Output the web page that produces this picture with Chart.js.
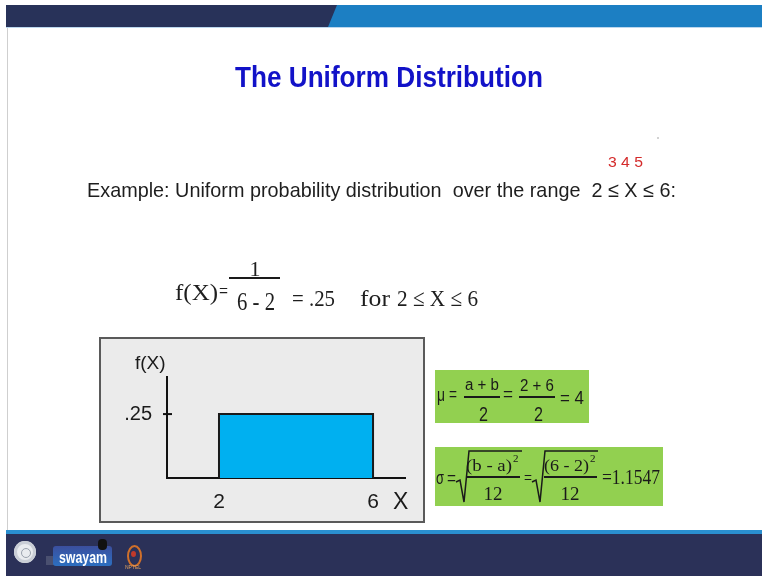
<!DOCTYPE html>
<html>
<head>
<meta charset="utf-8">
<title>The Uniform Distribution</title>
<script src="https://cdn.jsdelivr.net/npm/chart.js@4/dist/chart.umd.min.js"></script>
<style>
  html, body { margin: 0; padding: 0; background: #ffffff; }
  #slide { position: relative; width: 762px; height: 576px; overflow: hidden; background: #ffffff; }
  .abs { position: absolute; }
  .t { position: absolute; white-space: pre; line-height: 1; }
  .sans { font-family: 'Liberation Sans Narrow', 'Liberation Sans', Arial, sans-serif; }
  .serif { font-family: 'Liberation Serif', 'Times New Roman', serif; }
  #chartBox { left: 99px; top: 337px; width: 322px; height: 182px; background: #ebebeb; border: 2px solid #5a5a5a; }
  #chartCanvas { position: absolute; left: 99px; top: 337px; }
  .green { background: #92d050; }
  .bar { background: #1a1a1a; height: 1.5px; }
</style>
</head>
<body>
<div id="slide">
  <!-- header band -->
  <div class="abs" style="left:6px;top:5px;width:756px;height:22px;background:#283259;"></div>
  <div class="abs" style="left:0;top:5px;width:762px;height:22px;background:#1c7fc3;clip-path:polygon(337px 0,762px 0,762px 22px,328px 22px);"></div>
  <div class="abs" style="left:6px;top:27px;width:756px;height:1px;background:#bcd7ee;"></div>
  <!-- left edge rule -->
  <div class="abs" style="left:7px;top:28px;width:1px;height:502px;background:#cfcfcf;"></div>

  <!-- footer band -->
  <div class="abs" style="left:6px;top:530px;width:756px;height:4px;background:#2a8fd0;"></div>
  <div class="abs" style="left:6px;top:534px;width:756px;height:42px;background:#2b3158;"></div>
  <div class="abs" style="left:14px;top:541px;width:22px;height:22px;border-radius:50%;background:#e9ecef;box-shadow:inset 0 0 0 3px #c9ced6;"></div>
  <div class="abs" style="left:21px;top:548px;width:8px;height:8px;border-radius:50%;border:1px solid #9aa2ad;"></div>
  <div class="abs" style="left:46px;top:556px;width:8px;height:9px;background:#4a5070;"></div>
  <div class="abs" style="left:53px;top:546px;width:59px;height:20px;border-radius:3px;background:linear-gradient(#3b4f9e,#2c6fc0);"></div>
  <div class="abs" style="left:98px;top:539px;width:9px;height:11px;border-radius:4px;background:#111;"></div>
  <div class="abs" style="left:127px;top:545px;width:11px;height:18px;border-radius:50%;border:2px solid #d0702a;"></div>
  <div class="abs" style="left:131px;top:551px;width:5px;height:6px;border-radius:50%;background:#c0392b;"></div>

  <!-- chart frame -->
  <div id="chartBox" class="abs"></div>
  <canvas id="chartCanvas" width="326" height="186"></canvas>

  <!-- formula boxes -->
  <div class="abs green" style="left:435px;top:370px;width:154px;height:53px;"></div>
  <div class="abs green" style="left:435px;top:447px;width:228px;height:59px;"></div>
  <div class="abs bar" style="left:229px;top:277px;width:51px;"></div>
  <div class="abs bar" style="left:464px;top:396px;width:36px;"></div>
  <div class="abs bar" style="left:519px;top:396px;width:36px;"></div>
  <div class="abs bar" style="left:466px;top:476px;width:54px;"></div>
  <div class="abs bar" style="left:544px;top:476px;width:53px;"></div>
  <svg class="abs" style="left:0;top:0;" width="762" height="576">
    <polyline points="456,482 460,480 464,502 469,451 522,451" fill="none" stroke="#1a1a1a" stroke-width="1.5"/>
    <polyline points="532,482 536,480 540,502 545,451 598,451" fill="none" stroke="#1a1a1a" stroke-width="1.5"/>
    <circle cx="658" cy="138" r="0.8" fill="#999"/>
  </svg>
</div>

<script>
// Uniform density over [a, b]
const supportRange = [2, 6];          // a, b
const densityLevel = [0.25];          // f(X) = 1 / (b - a)
const xTickValues = [2, 6];
const xTickLabels = ['2', '6'];
const yTickValues = [0.25];
const yTickLabels = ['.25'];
const xAxisBounds = [0.65, 6.83];
const yAxisBounds = [0, 0.395];

const slide = document.getElementById('slide');

// Place a text run with its baseline at `base`; optionally squeeze to a width.
function put(txt, x, base, cls, css, opts) {
  opts = opts || {};
  const el = document.createElement('div');
  el.className = 't ' + cls;
  el.style.cssText += 'left:0px;top:0px;' + (css || '');
  el.textContent = txt;
  const probe = document.createElement('span');
  probe.style.cssText = 'display:inline-block;width:0;height:0;vertical-align:baseline;';
  el.appendChild(probe);
  slide.appendChild(el);
  const b = probe.offsetTop;
  let w = el.getBoundingClientRect().width;
  let sx = 1;
  if (opts.w) { sx = opts.w / w; w = opts.w; }
  let left = x;
  if (opts.anchor === 'center') left = x - w / 2;
  if (opts.anchor === 'end') left = x - w;
  el.style.left = left + 'px';
  el.style.top = (base - b) + 'px';
  if (sx !== 1) { el.style.transformOrigin = '0 0'; el.style.transform = 'scaleX(' + sx + ')'; }
  return el;
}

// Headline and statement
put('The Uniform Distribution', 235, 87, 'sans', 'font-size:29px;font-weight:bold;color:#1212c8;', { w: 308 });
put('Example: Uniform probability distribution  over the range  2 \u2264 X \u2264 6:', 87, 197, 'sans', 'font-size:21px;color:#1e1e1e;', { w: 589 });
put('3 4 5', 608, 167, 'sans', 'font-size:14px;color:#d42a2a;', { w: 35 });

// f(X) = 1/(6-2) = .25 for 2 <= X <= 6
put('f(X)', 175, 300, 'serif', 'font-size:24px;color:#1e1e1e;', { w: 43 });
put('=', 219, 298, 'serif', 'font-size:20px;color:#1e1e1e;', { w: 9 });
put('1', 255, 276, 'serif', 'font-size:22px;color:#1e1e1e;', { anchor: 'center' });
put('6 - 2', 256, 310, 'serif', 'font-size:25px;color:#1e1e1e;', { anchor: 'center', w: 38 });
put('= .25', 292, 306, 'serif', 'font-size:23px;color:#1e1e1e;', { w: 43 });
put('for', 360, 306, 'serif', 'font-size:23px;color:#1e1e1e;', { w: 30 });
put('2 \u2264 X \u2264 6', 397, 306, 'serif', 'font-size:24px;color:#1e1e1e;', { w: 81 });

// mean box
put('\u03bc', 437, 401, 'sans', 'font-size:19px;color:#1a1a1a;', { w: 8 });
put('=', 449, 400, 'sans', 'font-size:18px;color:#1a1a1a;', { w: 8 });
put('a + b', 482, 390, 'sans', 'font-size:16px;color:#1a1a1a;', { anchor: 'center', w: 34 });
put('2', 483, 421, 'sans', 'font-size:21px;color:#1a1a1a;', { anchor: 'center', w: 9 });
put('=', 503, 400, 'sans', 'font-size:18px;color:#1a1a1a;', { w: 10 });
put('2 + 6', 537, 391, 'sans', 'font-size:17px;color:#1a1a1a;', { anchor: 'center', w: 34 });
put('2', 538, 421, 'sans', 'font-size:21px;color:#1a1a1a;', { anchor: 'center', w: 9 });
put('= 4', 560, 404, 'sans', 'font-size:18px;color:#1a1a1a;', { w: 24 });

// standard deviation box
put('\u03c3', 436, 484, 'sans', 'font-size:19px;color:#1a1a1a;', { w: 8 });
put('=', 447, 484, 'sans', 'font-size:18px;color:#1a1a1a;', { w: 9 });
put('(b - a)', 466, 471, 'serif', 'font-size:17px;color:#1a1a1a;', { w: 46 });
put('2', 513, 462, 'serif', 'font-size:11px;color:#1a1a1a;');
put('12', 493, 500, 'serif', 'font-size:19px;color:#1a1a1a;', { anchor: 'center' });
put('=', 524, 484, 'serif', 'font-size:18px;color:#1a1a1a;', { w: 8 });
put('(6 - 2)', 544, 471, 'serif', 'font-size:17px;color:#1a1a1a;', { w: 45 });
put('2', 590, 462, 'serif', 'font-size:11px;color:#1a1a1a;');
put('12', 570, 500, 'serif', 'font-size:19px;color:#1a1a1a;', { anchor: 'center' });
put('=1.1547', 602, 484, 'serif', 'font-size:20px;color:#1a1a1a;', { w: 58 });

// footer logo text
put('swayam', 83, 563, 'sans', 'font-size:17px;font-weight:bold;color:#ffffff;', { anchor: 'center', w: 48 });
put('NPTEL', 133, 569, 'sans', 'font-size:5px;color:#e0a060;', { anchor: 'center' });

// Axis names and the crossing tick mark on the density axis
const axisMarks = {
  id: 'axisMarks',
  afterDraw(chart) {
    const { ctx, chartArea: ca, scales: { y } } = chart;
    ctx.save();
    ctx.strokeStyle = '#111111';
    ctx.lineWidth = 2;
    yTickValues.forEach(v => {
      const py = y.getPixelForValue(v);
      ctx.beginPath();
      ctx.moveTo(ca.left - 4, py);
      ctx.lineTo(ca.left + 5, py);
      ctx.stroke();
    });
    ctx.fillStyle = '#1a1a1a';
    ctx.textBaseline = 'alphabetic';
    ctx.textAlign = 'left';
    ctx.font = "19px 'Liberation Sans Narrow', 'Liberation Sans', Arial, sans-serif";
    ctx.fillText('f(X)', ca.left - 32, ca.top - 8);
    ctx.font = "23px 'Liberation Sans Narrow', 'Liberation Sans', Arial, sans-serif";
    ctx.fillText('X', ca.right - 12, ca.bottom + 31);
    ctx.restore();
  }
};

const a = supportRange[0], b = supportRange[1], h = densityLevel[0];
const tickFont = { family: "'Liberation Sans Narrow', 'Liberation Sans', Arial, sans-serif", size: 21 };

new Chart(document.getElementById('chartCanvas'), {
  type: 'line',
  data: {
    datasets: [{
      data: [{ x: a, y: 0 }, { x: a, y: h }, { x: b, y: h }, { x: b, y: 0 }],
      borderColor: '#1a1a1a',
      borderWidth: 2,
      backgroundColor: '#00b0f0',
      fill: 'origin',
      pointRadius: 0,
      tension: 0
    }]
  },
  options: {
    responsive: false,
    animation: false,
    events: [],
    layout: { padding: { left: 0, top: 40, right: 20, bottom: 0 } },
    plugins: { legend: { display: false }, tooltip: { enabled: false } },
    scales: {
      x: {
        type: 'linear',
        min: xAxisBounds[0],
        max: xAxisBounds[1],
        afterBuildTicks: s => { s.ticks = xTickValues.map(v => ({ value: v })); },
        afterFit: s => { s.height = 45; },
        ticks: {
          callback: (v, i) => xTickLabels[i],
          font: tickFont,
          color: '#1a1a1a',
          padding: 12,
          maxRotation: 0,
          autoSkip: false
        },
        grid: { display: false, drawTicks: false },
        border: { display: true, color: '#111111', width: 2 }
      },
      y: {
        min: yAxisBounds[0],
        max: yAxisBounds[1],
        afterBuildTicks: s => { s.ticks = yTickValues.map(v => ({ value: v })); },
        afterFit: s => { s.width = 68; },
        ticks: {
          callback: (v, i) => yTickLabels[i],
          font: { family: tickFont.family, size: 20 },
          color: '#1a1a1a',
          padding: 15,
          autoSkip: false
        },
        grid: { display: false, drawTicks: false },
        border: { display: true, color: '#111111', width: 2 }
      }
    }
  },
  plugins: [axisMarks]
});
</script>
</body>
</html>
